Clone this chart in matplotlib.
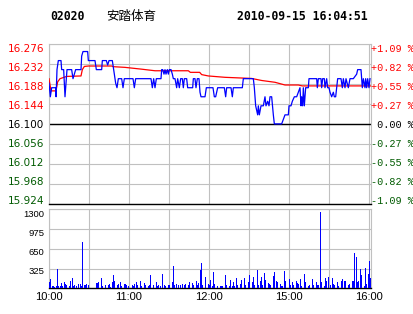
import matplotlib
matplotlib.use("Agg")
import matplotlib.pyplot as plt
import matplotlib.transforms as mtransforms
import numpy as np

# ---------------- data ----------------
code = "02020"
name = "安踏体育"
stamp = "2010-09-15 16:04:51"
prev_close = 16.10

# minute index (lunch removed: 0 = 10:00, 150 = 12:30, 151 = 14:30, 241 = 16:00)
price_min = [0, 1, 2, 5, 5.3, 6, 7, 9, 9.5, 11, 12, 13, 13.5, 17, 18, 19, 20, 24,
             24.5, 25.5, 29, 29.5, 34.5, 35.5, 39.5, 40, 43, 44, 45, 47.5, 48.5, 50,
             51, 52, 54.5, 55.5, 56.5, 63, 64, 65, 76.5, 77.5, 78.5, 79.5, 80.5, 84,
             84.5, 85.25, 86.25, 87, 87.75, 88.75, 89.5, 90.25, 91.5, 92.5, 93.25,
             94.5, 95.75, 96.5, 97.75, 98.75, 100, 100.75, 101.5, 103.25, 104, 107.75,
             108.25, 109.5, 110.25, 111.25, 112.5, 113.25, 114, 117, 118, 123, 124, 125,
             126.5, 131.5, 132.5, 133.25, 136.5, 137.5, 138.25, 145, 145.75, 153.25,
             154, 155, 156.5, 157, 157.75, 159, 160.75, 162, 162.75, 164, 165, 165.75,
             167, 168.25, 169, 174.5, 175.75, 177, 179.5, 180, 181.5, 182.5, 184,
             185.75, 187, 188.25, 189, 189.5, 190.25, 190.75, 191.5, 192.5, 194.5, 195,
             200.75, 201.25, 202, 204, 204.5, 205.25, 206.5, 207, 208.25, 209, 210,
             210.75, 212, 213.25, 214, 215, 215.75, 216.5, 219, 220, 220.75, 222,
             222.75, 224.5, 225.75, 228.25, 230.75, 231.5, 234, 235, 235.75, 237,
             237.5, 238.25, 239, 240, 240.75]
price_val = [16.19, 16.16, 16.18, 16.18, 16.16, 16.22, 16.24, 16.24, 16.22, 16.22, 16.16,
             16.20, 16.22, 16.22, 16.20, 16.21, 16.22, 16.22, 16.25, 16.26, 16.26, 16.24,
             16.24, 16.22, 16.22, 16.24, 16.24, 16.23, 16.24, 16.24, 16.22, 16.19, 16.18,
             16.20, 16.20, 16.18, 16.20, 16.20, 16.18, 16.20, 16.20, 16.18, 16.20, 16.18,
             16.20, 16.20, 16.22, 16.22, 16.21, 16.22, 16.21, 16.22, 16.21, 16.22, 16.22,
             16.21, 16.20, 16.20, 16.18, 16.20, 16.18, 16.20, 16.20, 16.18, 16.20, 16.20,
             16.18, 16.18, 16.20, 16.20, 16.18, 16.20, 16.20, 16.17, 16.16, 16.16, 16.18,
             16.18, 16.16, 16.16, 16.18, 16.18, 16.16, 16.18, 16.18, 16.16, 16.18, 16.18,
             16.20, 16.20, 16.18, 16.14, 16.12, 16.14, 16.12, 16.14, 16.14, 16.16, 16.14,
             16.15, 16.14, 16.16, 16.16, 16.12, 16.10, 16.10, 16.11, 16.12, 16.12, 16.14,
             16.14, 16.15, 16.16, 16.16, 16.17, 16.18, 16.14, 16.16, 16.14, 16.18, 16.14,
             16.18, 16.18, 16.20, 16.20, 16.18, 16.20, 16.20, 16.18, 16.20, 16.20, 16.18,
             16.20, 16.18, 16.18, 16.17, 16.16, 16.17, 16.16, 16.16, 16.18, 16.20, 16.20,
             16.18, 16.20, 16.18, 16.20, 16.18, 16.20, 16.20, 16.21, 16.22, 16.22, 16.18,
             16.20, 16.18, 16.20, 16.18, 16.20, 16.18, 16.20]

avg_min = [0, 1.5, 5.25, 6.5, 8.25, 13.25, 24, 25, 26.5, 29.5, 47, 48.25, 57, 69.5,
           79.5, 104.5, 106, 113, 114.5, 119.5, 132, 152, 159.5, 169.5, 177, 187, 190, 241]
avg_val = [16.200, 16.173, 16.173, 16.193, 16.200, 16.205, 16.206, 16.220, 16.227,
           16.228, 16.228, 16.2265, 16.225, 16.221, 16.2175, 16.2175, 16.214, 16.214,
           16.209, 16.206, 16.203, 16.2005, 16.196, 16.192, 16.186, 16.186, 16.184, 16.184]

volume = [110, 153, 38, 30, 25, 45, 318, 38, 38, 82, 38, 100, 66, 55, 0, 45, 120, 175, 38, 55,
          44, 0, 70, 66, 44, 762, 55, 50, 70, 55, 0, 0, 0, 0, 0, 88, 88, 110, 0, 170,
          44, 0, 55, 0, 55, 66, 27, 100, 219, 120, 0, 55, 77, 100, 44, 0, 66, 70, 55, 44,
          0, 0, 55, 44, 70, 104, 55, 0, 120, 38, 0, 88, 55, 0, 38, 55, 219, 0, 55, 0,
          100, 44, 50, 44, 0, 236, 55, 44, 0, 55, 55, 0, 100, 367, 55, 70, 0, 55, 55, 0,
          70, 55, 66, 0, 55, 104, 0, 82, 55, 0, 120, 55, 93, 296, 411, 55, 0, 192, 0, 66,
          55, 137, 44, 274, 66, 0, 38, 0, 38, 38, 38, 0, 219, 55, 0, 38, 137, 38, 99, 44,
          175, 55, 0, 66, 137, 0, 175, 55, 0, 99, 219, 0, 99, 192, 55, 0, 301, 55, 120, 192,
          55, 247, 137, 0, 82, 66, 55, 0, 203, 274, 120, 110, 0, 71, 44, 38, 285, 120, 0, 0,
          153, 55, 110, 55, 0, 120, 82, 66, 153, 38, 0, 236, 110, 0, 38, 55, 0, 153, 55, 0,
          110, 55, 55, 1250, 110, 0, 44, 175, 120, 192, 0, 55, 175, 66, 55, 0, 110, 38, 0, 120,
          153, 120, 120, 0, 55, 71, 0, 120, 120, 586, 520, 110, 120, 318, 219, 0, 44, 340, 66, 230,
          449, 175]

price_ticks = [15.924, 15.968, 16.012, 16.056, 16.100, 16.144, 16.188, 16.232, 16.276]
price_labels = ["15.924", "15.968", "16.012", "16.056", "16.100",
                "16.144", "16.188", "16.232", "16.276"]
pct_labels = ["-1.09 %", "-0.82 %", "-0.55 %", "-0.27 %", " 0.00 %",
              "+0.27 %", "+0.55 %", "+0.82 %", "+1.09 %"]
vol_ticks = [325, 650, 975, 1300]
vol_labels = ["325", "650", "975", "1300"]
time_ticks = [0, 30, 60, 90, 120, 150, 180, 210, 240]
time_labels = ["10:00", "", "11:00", "", "12:00", "", "15:00", "", "16:00"]

# ---------------- style ----------------
RED = "#ff0000"
GREEN = "#005a00"
BLUE = "#0000ff"
GRID = "#c0c0c0"
W, H = 414, 314

def label_color(p):
    if p > prev_close + 1e-9:
        return RED
    if p < prev_close - 1e-9:
        return GREEN
    return "black"

fig = plt.figure(figsize=(W / 100, H / 100), dpi=100)
fig.patch.set_facecolor("white")

def shift(label, dy_px):
    label.set_transform(label.get_transform() +
                        mtransforms.ScaledTranslation(0, dy_px / 100, fig.dpi_scale_trans))

x0, x1 = 49, 371
m_top, m_bot = 44.3, 203.5
v_top, v_bot = 209.3, 288.3
ax = fig.add_axes([x0 / W, (H - m_bot) / H, (x1 - x0) / W, (m_bot - m_top) / H])
axv = fig.add_axes([x0 / W, (H - v_bot) / H, (x1 - x0) / W, (v_bot - v_top) / H])

for a in (ax, axv):
    a.set_xlim(0, 241.5)
    a.set_xticks(time_ticks)
    a.grid(True, color=GRID, lw=0.8)
    a.set_axisbelow(True)
    for s in ("left", "top", "right"):
        a.spines[s].set_color(GRID)
        a.spines[s].set_linewidth(0.8)
    a.spines["bottom"].set_color("black")
    a.spines["bottom"].set_linewidth(1.0)
    a.tick_params(length=0)

# main price panel
ax.set_ylim(price_ticks[0], price_ticks[-1])
ax.set_yticks(price_ticks)
ax.set_yticklabels(price_labels, family="DejaVu Sans", fontsize=7.5)
ax.set_xticklabels([])
ax.tick_params(axis="y", pad=3.4)
for j, (lab, p) in enumerate(zip(ax.get_yticklabels(), price_ticks)):
    lab.set_color(label_color(p))
    shift(lab, (4 - j) * 0.9)
ax.axhline(prev_close, color="black", lw=1.0, zorder=2)
ax.plot(avg_min, avg_val, color=RED, lw=0.9, zorder=3)
ax.plot(price_min, price_val, color=BLUE, lw=0.9, zorder=4)

ax2 = ax.twinx()
ax2.set_ylim(price_ticks[0], price_ticks[-1])
ax2.set_yticks(price_ticks)
ax2.set_yticklabels(pct_labels, family="Liberation Mono", fontsize=7.3)
ax2.tick_params(length=0, pad=0)
for s in ax2.spines.values():
    s.set_visible(False)
for j, (lab, p) in enumerate(zip(ax2.get_yticklabels(), price_ticks)):
    lab.set_color(label_color(p))
    shift(lab, (4 - j) * 0.9)

# volume panel
axv.set_ylim(0, 1300)
axv.set_yticks(vol_ticks)
axv.set_yticklabels(vol_labels, family="Liberation Sans", fontsize=6.8)
axv.set_xticklabels(time_labels, family="Liberation Sans", fontsize=8)
axv.tick_params(axis="y", pad=3.4)
axv.tick_params(axis="x", pad=3)
for j, lab in enumerate(axv.get_yticklabels()):
    shift(lab, -(2.0 + 0.65 * j))
axv.bar(np.arange(len(volume)), volume, width=0.85, align="edge", color=BLUE,
        linewidth=0, zorder=3, antialiased=False)

# header
yh = 1 - 16.5 / H
fig.text(50 / W, yh, code, family="DejaVu Sans Mono", weight="bold", fontsize=8.3, va="center")
fig.text(106 / W, yh, name, family=["Noto Sans CJK SC", "DejaVu Sans"], fontsize=9, va="center")
fig.text(237.5 / W, yh, stamp, family="DejaVu Sans Mono", weight="bold", fontsize=8.3, va="center")

fig.savefig("out.png", dpi=100, facecolor="white")
